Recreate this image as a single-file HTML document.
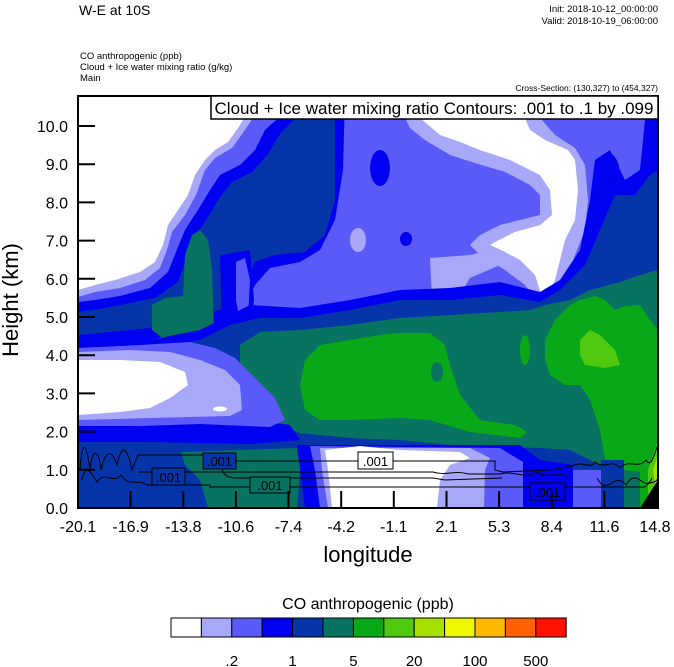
<!DOCTYPE html>
<html><head><meta charset="utf-8"><style>
html,body{margin:0;padding:0;background:#fff;}
svg{display:block;font-family:"Liberation Sans",sans-serif;}
</style></head><body>
<svg width="674" height="667" viewBox="0 0 674 667" xmlns="http://www.w3.org/2000/svg">
<defs><clipPath id="pc"><rect x="78" y="96" width="580" height="412"/></clipPath></defs>
<text x="79" y="15" font-size="14">W-E at 10S</text>
<text x="658" y="12" font-size="9.5" text-anchor="end">Init: 2018-10-12_00:00:00</text>
<text x="658" y="24" font-size="9.5" text-anchor="end">Valid: 2018-10-19_06:00:00</text>
<text x="80" y="59" font-size="9.5">CO anthropogenic   (ppb)</text>
<text x="80" y="70" font-size="9.5">Cloud + Ice water mixing ratio   (g/kg)</text>
<text x="80" y="81" font-size="9.5">Main</text>
<text x="658" y="91" font-size="8.5" text-anchor="end">Cross-Section: (130,327) to (454,327)</text>

<g clip-path="url(#pc)">
<rect x="78" y="96" width="580" height="412" fill="#5A5AF8"/>
<polygon fill="#0000F0" points="78,96 345,96 343,170 335,220 320,250 300,262 270,268 255,285 245,305 230,318 200,328 150,340 100,345 78,347"/>
<polygon fill="#0535A8" points="312,96 335,96 335,200 325,235 305,252 275,255 255,262 245,285 230,305 200,318 150,328 100,333 78,335 78,312 100,309 155,298 178,282 186,260 195,237 208,217 220,197 232,182 252,172 268,154 280,134 298,115"/>
<polygon fill="#077360" points="185,255 192,235 200,230 208,240 212,270 214,330 208,348 190,345 165,340 152,330 152,305 165,298 183,296"/>
<polygon fill="#0000F0" points="220,255 250,250 254,300 250,335 235,345 222,330"/>
<polygon fill="#5A5AF8" points="236,262 245,258 250,280 248,318 240,322 236,300"/>
<polygon fill="#5A5AF8" points="300,96 285,112 265,130 255,150 240,165 220,175 210,190 198,210 185,230 176,252 168,272 150,288 120,296 95,300 78,302 78,96"/>
<polygon fill="#A8A8F8" points="78,96 262,96 255,115 245,130 232,148 215,158 205,170 196,195 185,215 172,232 167,250 160,268 145,280 120,288 95,292 78,297"/>
<polygon fill="#FFFFFF" points="78,96 255,96 248,112 238,128 228,142 215,150 205,160 195,175 188,195 178,210 168,225 163,245 155,262 140,272 115,280 95,285 78,290"/>
<polygon fill="#A8A8F8" points="405,118 540,118 555,135 575,148 585,165 588,200 585,230 575,255 565,285 555,305 540,305 525,285 505,270 480,255 470,245 480,235 500,225 540,215 540,195 530,185 505,172 475,163 450,155 425,140 410,128"/>
<polygon fill="#A8A8F8" points="430,258 470,255 490,250 500,265 470,278 460,295 445,300 432,298"/>
<polygon fill="#FFFFFF" points="420,118 525,118 530,130 545,140 568,150 575,160 578,190 575,220 565,240 560,260 555,280 548,295 543,300 535,275 520,260 505,252 490,245 495,242 515,232 540,225 552,215 550,190 540,175 510,160 480,150 460,142 440,135"/>
<ellipse cx="358" cy="240" rx="8" ry="12" fill="#A8A8F8"/>
<ellipse cx="380" cy="168" rx="10" ry="18" fill="#0000F0"/>
<ellipse cx="406" cy="239" rx="6" ry="7" fill="#0000F0"/>
<ellipse cx="608" cy="175" rx="12" ry="22" fill="#0000F0"/>
<rect x="645" y="96" width="13" height="80" fill="#0000F0"/>
<polygon fill="#0000F0" points="78,345 150,340 200,330 230,315 250,305 300,308 350,300 400,290 450,288 500,282 540,292 560,280 580,250 590,200 595,160 610,150 625,180 640,170 645,120 650,96 658,96 658,508 78,508"/>
<polygon fill="#0535A8" points="78,352 150,348 200,340 230,325 260,318 300,318 350,310 400,300 450,300 500,295 540,302 560,290 585,265 600,230 615,195 635,195 650,175 658,170 658,508 78,508"/>
<polygon fill="#077360" points="240,345 260,332 300,330 350,325 400,318 450,315 500,312 530,310 545,305 570,300 590,290 620,282 640,275 658,270 658,470 620,470 600,465 570,450 540,448 500,447 450,445 400,440 350,438 300,433 260,420 245,400 240,370"/>
<polygon fill="#08A818" points="305,360 320,345 350,340 380,335 400,333 430,333 445,345 450,365 460,395 480,420 515,425 527,432 520,438 470,432 430,420 400,418 350,420 320,420 305,410 300,385"/>
<ellipse cx="437" cy="372" rx="6" ry="10" fill="#077360"/>
<ellipse cx="525" cy="350" rx="5" ry="15" fill="#08A818"/>
<polygon fill="#08A818" points="545,340 555,320 570,305 580,300 595,296 605,300 615,310 625,306 640,305 650,320 658,330 658,440 650,450 645,470 640,480 620,475 605,460 600,430 590,400 580,385 565,385 550,375 545,360"/>
<polygon fill="#50C810" points="580,340 590,330 600,335 615,350 620,365 605,368 585,365 580,355"/>
<polygon fill="#0000F0" points="78,420 200,420 270,422 290,425 300,440 250,444 150,442 78,442"/>
<polygon fill="#5A5AF8" points="78,348 140,345 190,342 215,348 235,358 255,378 275,398 285,420 270,427 200,424 140,426 78,426"/>
<polygon fill="#A8A8F8" points="78,352 130,350 170,352 200,360 225,370 240,385 242,410 230,416 150,418 78,420"/>
<polygon fill="#FFFFFF" points="78,360 120,360 160,362 185,372 188,385 170,398 150,408 120,412 78,415"/>
<ellipse cx="220" cy="409" rx="7" ry="2.5" fill="#FFFFFF"/>
<!-- bottom -->
<polygon fill="#077360" points="181,452 297,448 300,470 297,508 208,508 200,480 185,465"/>
<polygon fill="#0000F0" points="297,445 520,445 540,460 573,465 573,508 305,508"/>
<polygon fill="#5A5AF8" points="310,446 500,448 523,462 523,508 320,508 315,470"/>
<polygon fill="#A8A8F8" points="320,448 470,448 490,458 485,470 484,508 328,508 322,470"/>
<polygon fill="#FFFFFF" points="325,450 360,446 400,450 460,452 470,458 450,465 440,480 437,508 332,508 328,470"/>
<rect x="573" y="470" width="28" height="38" fill="#5A5AF8"/>
<rect x="601" y="460" width="23" height="48" fill="#0535A8"/>
<polygon fill="#077360" points="624,470 640,472 645,508 624,508"/>
<polygon fill="#08A818" points="640,470 658,430 658,508 640,508"/>
<polygon fill="#50C810" points="648,470 658,440 658,508 648,508"/>
<polygon fill="#A8E000" points="653,470 658,455 658,500"/>
<polygon fill="#000" points="640,508 658,480 658,508"/>
<g fill="none" stroke="#000" stroke-width="1">
<path d="M80,470 C82,440 86,440 90,470 C92,450 98,445 101,470 C106,448 112,450 117,465 C122,440 128,450 132,470 L138,455 L215,455 L215,461 L495,461 L495,470 L503,472 L550,470 L572,466 C583,460 590,470 595,462 C604,470 612,458 620,468 C629,458 638,470 646,460 C652,470 655,450 658,445"/>
<path d="M82,480 C86,460 92,475 97,482 C104,470 113,485 121,475 C129,488 138,478 147,485 L210,485 L210,487 L645,487 C650,480 655,485 658,478"/>
<path d="M138,472 L433,472 C445,476 456,470 468,474 L500,474 C514,470 525,480 537,472 C546,480 560,470 569,478"/>
<path d="M222,466 C222,475 228,478 236,478 L433,478 L445,480 L502,478"/>
<path d="M597,478 C608,498 614,470 626,485 C637,465 645,495 652,478"/>
</g>
<g font-size="13" text-anchor="middle">
<rect x="203" y="453" width="33" height="16" fill="#0535A8" stroke="#000"/>
<text x="219.5" y="466">.001</text>
<rect x="152" y="468" width="33" height="17" fill="#0535A8" stroke="#000"/>
<text x="168.5" y="482">.001</text>
<rect x="250" y="477" width="40" height="16" fill="#077360" stroke="#000"/>
<text x="270" y="490">.001</text>
<rect x="358" y="452" width="35" height="17" fill="#FFFFFF" stroke="#000"/>
<text x="375.5" y="466">.001</text>
<rect x="530" y="483" width="35" height="17" fill="#0000F0" stroke="#000"/>
<text x="547.5" y="497">.001</text>
</g>
</g>
<rect x="78" y="96" width="580" height="412" fill="none" stroke="#000" stroke-width="2"/>
<rect x="211" y="96" width="447" height="23" fill="#fff" stroke="#000" stroke-width="1.5"/>
<text x="434" y="114" font-size="17" text-anchor="middle">Cloud + Ice water mixing ratio Contours: .001 to .1 by .099</text>
<g stroke="#000" stroke-width="2">
<line x1="78" y1="469.8" x2="95" y2="469.8"/><line x1="78" y1="431.6" x2="95" y2="431.6"/>
<line x1="78" y1="393.4" x2="95" y2="393.4"/><line x1="78" y1="355.2" x2="95" y2="355.2"/>
<line x1="78" y1="317" x2="95" y2="317"/><line x1="78" y1="278.8" x2="95" y2="278.8"/>
<line x1="78" y1="240.6" x2="95" y2="240.6"/><line x1="78" y1="202.4" x2="95" y2="202.4"/>
<line x1="78" y1="164.2" x2="95" y2="164.2"/><line x1="78" y1="126" x2="95" y2="126"/>
<line x1="130.6" y1="508" x2="130.6" y2="491"/><line x1="183.3" y1="508" x2="183.3" y2="491"/>
<line x1="235.9" y1="508" x2="235.9" y2="491"/><line x1="288.5" y1="508" x2="288.5" y2="491"/>
<line x1="341.2" y1="508" x2="341.2" y2="491"/><line x1="393.8" y1="508" x2="393.8" y2="491"/>
<line x1="446.5" y1="508" x2="446.5" y2="491"/><line x1="499.1" y1="508" x2="499.1" y2="491"/>
<line x1="551.7" y1="508" x2="551.7" y2="491"/><line x1="604.4" y1="508" x2="604.4" y2="491"/>
</g>
<g font-size="16" text-anchor="end">
<text x="68" y="514">0.0</text><text x="68" y="475.8">1.0</text><text x="68" y="437.6">2.0</text>
<text x="68" y="399.4">3.0</text><text x="68" y="361.2">4.0</text><text x="68" y="323">5.0</text>
<text x="68" y="284.8">6.0</text><text x="68" y="246.6">7.0</text><text x="68" y="208.4">8.0</text>
<text x="68" y="170.2">9.0</text><text x="68" y="132">10.0</text>
</g>
<g font-size="16" text-anchor="middle">
<text x="78" y="532">-20.1</text><text x="130.6" y="532">-16.9</text><text x="183.3" y="532">-13.8</text>
<text x="235.9" y="532">-10.6</text><text x="288.5" y="532">-7.4</text><text x="341.2" y="532">-4.2</text>
<text x="393.8" y="532">-1.1</text><text x="446.5" y="532">2.1</text><text x="499.1" y="532">5.3</text>
<text x="551.7" y="532">8.4</text><text x="604.4" y="532">11.6</text><text x="655" y="532">14.8</text>
</g>
<text x="368" y="562" font-size="22" text-anchor="middle">longitude</text>
<text transform="translate(18,300) rotate(-90)" font-size="22" text-anchor="middle">Height (km)</text>
<text x="368" y="609" font-size="16" text-anchor="middle">CO anthropogenic  (ppb)</text>
<g stroke="#000" stroke-width="1">
<rect x="171" y="618" width="30.4" height="19" fill="#FFFFFF"/>
<rect x="201.4" y="618" width="30.4" height="19" fill="#A8A8F8"/>
<rect x="231.8" y="618" width="30.4" height="19" fill="#5A5AF8"/>
<rect x="262.2" y="618" width="30.4" height="19" fill="#0000F0"/>
<rect x="292.6" y="618" width="30.4" height="19" fill="#0535A8"/>
<rect x="323" y="618" width="30.4" height="19" fill="#077360"/>
<rect x="353.4" y="618" width="30.4" height="19" fill="#08A818"/>
<rect x="383.8" y="618" width="30.4" height="19" fill="#50C810"/>
<rect x="414.2" y="618" width="30.4" height="19" fill="#A8E000"/>
<rect x="444.6" y="618" width="30.4" height="19" fill="#F0F800"/>
<rect x="475" y="618" width="30.4" height="19" fill="#FFB800"/>
<rect x="505.4" y="618" width="30.4" height="19" fill="#FF6000"/>
<rect x="535.8" y="618" width="30.4" height="19" fill="#FF1000"/>
</g>
<g font-size="15" text-anchor="middle">
<text x="231.8" y="666">.2</text><text x="292.6" y="666">1</text><text x="353.4" y="666">5</text>
<text x="414.2" y="666">20</text><text x="475" y="666">100</text><text x="535.8" y="666">500</text>
</g>
</svg>
</body></html>
